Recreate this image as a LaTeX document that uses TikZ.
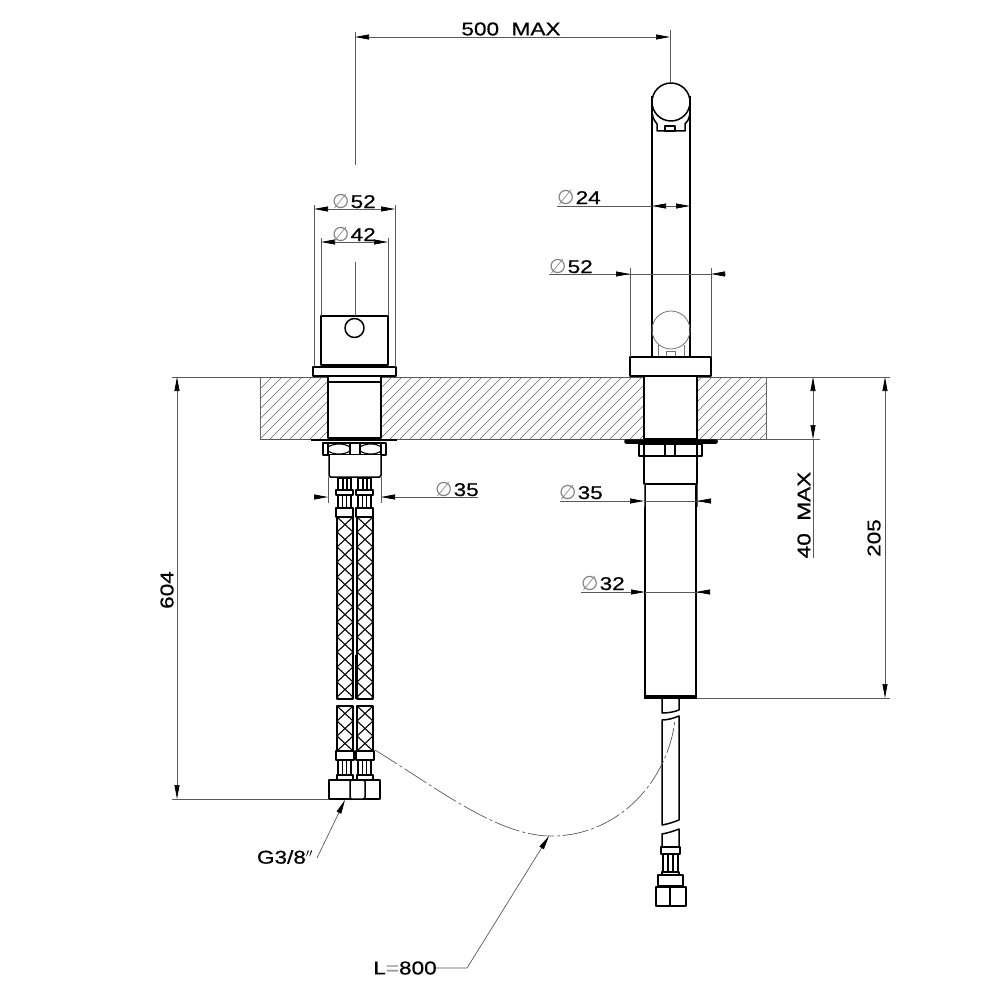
\documentclass[tikz,border=0pt]{standalone}
\usepackage{fontspec}
\setmainfont[FakeStretch=1.22,FakeBold=0.6]{Liberation Sans}
\newfontfamily\diafont{DejaVu Sans}
\usetikzlibrary{arrows.meta}
\tikzset{
  part/.style={draw=black,line width=1.5pt,fill=white,line join=round},
  thinpart/.style={draw=black,line width=1.1pt},
  ghost/.style={draw=black!55,line width=0.8pt},
  dim/.style={draw=black!65,line width=0.7pt},
  dimarrow/.style={dim,{Triangle[black,length=14pt,width=5pt]}-{Triangle[black,length=14pt,width=5pt]}},
  leader/.style={dim,-{Triangle[black,length=14pt,width=5pt]}},
  label/.style={font=\fontsize{18.5}{20}\selectfont,inner sep=0pt,text=black},
  hatchline/.style={draw=black!60,line width=0.55pt},
}
\newcommand{\dia}{\textcolor{black!50}{\diafont\fontsize{20}{20}\selectfont ∅}\hspace{1pt}}
% draws a braided hose between x1,x2 and y1,y2
\newcommand{\braid}[4]{
  \begin{scope}
    \clip (#1,#3) rectangle (#2,#4);
    \foreach \k in {-2,...,14}{
      \draw[thinpart] (#1,#3+\k*15) -- (#2,#3+\k*15+15) (#2,#3+\k*15) -- (#1,#3+\k*15+15);
    }
  \end{scope}
  \draw[part,fill=none] (#1,#3) rectangle (#2,#4);
}
% draws the ribbed fitting under/over a hose
\newcommand{\ribs}[3]{
  \draw[part] (#1+2,#2) rectangle (#1+15,#3);
  \draw[thinpart] (#1+6.5,#2) -- (#1+6.5,#3) (#1+10.5,#2) -- (#1+10.5,#3);
}
\begin{document}
\begin{tikzpicture}[x=1pt,y=-1pt]
  \useasboundingbox (0,0) rectangle (1000,1000);
  % worktop
  \begin{scope}
    \clip (260,377) rectangle (766,439);
    \foreach \k in {-7,...,51}{
      \draw[hatchline] (260+\k*10,439) -- (322+\k*10,377);
    }
  \end{scope}
  \draw[dim] (172,377) -- (890,377);
  \draw[dim] (260,439) -- (820,439);
  \draw[hatchline] (260,377) -- (260,439) (766,377) -- (766,439);
  % left body
  \draw[part] (321,316) rectangle (388,365);
  \draw[part] (354.5,328) circle (9.5);
  \draw[part] (313,367) rectangle (396,376);
  \draw[part] (328,376) rectangle (381,438);
  \draw[thinpart] (328,382) -- (381,382);
  \draw[part,line width=2.4pt] (311,440) -- (397,440);
  \draw[part] (323,443) rectangle (386,455);
  \draw[thinpart] (328,443) -- (328,455) (381,443) -- (381,455) (350,443) -- (350,455) (360,443) -- (360,455);
  \draw[thinpart] (328,447) .. controls (334,443) and (344,443) .. (350,447) (360,447) .. controls (366,443) and (376,443) .. (381,447);
  \draw[thinpart] (328,451) .. controls (334,455) and (344,455) .. (350,451) (360,451) .. controls (366,455) and (376,455) .. (381,451);
  \draw[part,rounded corners=1.5] (329,455) -- (329,477) -- (381,477) -- (381,455);
  % left fittings and hoses
  \foreach \xa in {336,356}{
    \draw[part] (\xa+2,478) rectangle (\xa+15,490);
    \draw[thinpart] (\xa+7,478) -- (\xa+7,490) (\xa+11,478) -- (\xa+11,490);
    \draw[part] (\xa,490) rectangle (\xa+17,495);
    \ribs{\xa}{495}{508}
    \draw[part] (\xa,508) rectangle (\xa+17,517);
    \braid{\xa+1}{\xa+17}{517}{699}
    \braid{\xa+1}{\xa+17}{706}{751}
    \draw[part] (\xa,751) rectangle (\xa+18,760);
    \ribs{\xa}{760}{775}
    \draw[part] (\xa+1,775) rectangle (\xa+17,780);
  }
  \draw[part] (329,780) rectangle (380,799);
  \draw[part,rounded corners=2pt] (350,780) rectangle (365,799);
  \draw[thinpart,line width=0.6pt] (355,655) -- (355,699);
  % right tap
  \draw[part] (652,96) -- (652,357) (690,96) -- (690,357);
  \draw[part] (652,113) .. controls (653,120) and (656,122) .. (657,124) -- (657,131) -- (685,131) -- (685,124) .. controls (687,122) and (689,120) .. (690,113);
  \draw[part] (665,126) rectangle (675,131);
  \draw[part] (671,102) circle (19);
  \draw[ghost] (671,330) circle (19);
  \draw[ghost] (658,345) -- (658,357) (684,345) -- (684,357);
  \draw[ghost] (666,351) rectangle (675,357);
  \draw[part] (630,357) rectangle (711,376);
  \draw[part] (644,376) rectangle (697,439);
  \draw[part,fill=black,rounded corners=1pt] (625,440) rectangle (717,443);
  \draw[part] (639,444) rectangle (702,456);
  \draw[thinpart] (644,444) -- (644,456) (697,444) -- (697,456) (665,444) -- (665,456) (675,444) -- (675,456);
  \draw[part] (644,456) rectangle (697,484);
  \draw[part] (645,484) rectangle (696,698);
  \draw[part,fill=black] (645,696) rectangle (696,698.5);
  % right hose
  \draw[part] (662,699) -- (662,713) .. controls (668,713) and (674,712) .. (679,710) -- (679,699);
  \draw[part] (662,720) .. controls (668,720) and (674,718) .. (679,716) -- (679,820) .. controls (674,822) and (668,824) .. (662,825) -- cycle;
  \draw[part] (662,834) .. controls (668,833) and (674,831) .. (679,829) -- (679,847) -- (662,847) -- cycle;
  \draw[part] (661,847) rectangle (680,854);
  \draw[part] (663,854) rectangle (678,872);
  \draw[thinpart] (668,854) -- (668,872) (673,854) -- (673,872);
  \draw[part] (662,872) rectangle (679,875);
  \draw[part] (658,875) rectangle (683,886);
  \draw[part] (656,887) rectangle (686,906);
  \draw[part] (670,887) -- (670,906);
  % flexible hose path
  \draw[dim,dash pattern=on 26pt off 3pt on 3pt off 3pt] (375,750) .. controls (440,790) and (500,838) .. (555,836) .. controls (620,834) and (668,780) .. (675,720);
  % extension lines
  \draw[dim] (355,32) -- (355,165);
  \draw[dim] (670,30) -- (670,83);
  \draw[dim] (314,205) -- (314,367) (395,205) -- (395,367);
  \draw[dim] (321,238) -- (321,316) (388,238) -- (388,316);
  \draw[dim] (355,262) -- (355,316);
  \draw[dim] (630,268) -- (630,357) (711,268) -- (711,357);
  \draw[dim] (697,698) -- (890,698);
  \draw[dim] (172,799) -- (329,799);
  \draw[dim] (328,477) -- (328,503) (381,477) -- (381,503);
  \draw[dim] (644,484) -- (644,507) (697,484) -- (697,507);
  % dimensions
  \coordinate (topl) at (355,37); \coordinate (topr) at (670,37);
  \draw[dimarrow] (topl) -- (topr);
  \node[label] (maxlabel) at (511,29) {500\ \ MAX};
  \coordinate (d52a) at (314,209); \coordinate (d52b) at (395,209);
  \draw[dimarrow] (d52a) -- (d52b);
  \node[label] (leftfiftytwo) at (354,201) {\dia 52};
  \coordinate (d42a) at (321,242); \coordinate (d42b) at (388,242);
  \draw[dimarrow] (d42a) -- (d42b);
  \node[label] (leftfortytwo) at (354,234) {\dia 42};
  \draw[dim] (557,206) -- (652,206);
  \draw[dimarrow] (652,206) -- (690,206);
  \node[label] (twentyfour) at (579,197) {\dia 24};
  \draw[dim] (549,274) -- (711,274);
  \draw[leader] (616,274) -- (630,274);
  \draw[leader] (725,274) -- (711,274);
  \node[label] (rightfiftytwo) at (571,266) {\dia 52};
  \draw[leader] (478,497) -- (381,497);
  \draw[leader] (314,497) -- (328,497);
  \node[label] (leftthirtyfive) at (457,489) {\dia 35};
  \draw[leader] (560,501) -- (644,501);
  \draw[dim] (644,501) -- (710,501);
  \draw[leader] (710,501) -- (697,501);
  \node[label] (rightthirtyfive) at (581,492) {\dia 35};
  \draw[leader] (581,592) -- (645,592);
  \draw[dim] (645,592) -- (708,592);
  \draw[leader] (708,592) -- (696,592);
  \node[label] (thirtytwo) at (603,583) {\dia 32};
  \draw[dimarrow] (813,377) -- (813,439);
  \draw[dim] (813,439) -- (813,558);
  \node[label,rotate=90] (fortymax) at (804,515) {40\ \ MAX};
  \draw[dimarrow] (885,377) -- (885,698);
  \node[label,rotate=90] (twohundred) at (874,538) {205};
  \draw[dimarrow] (177,377) -- (177,799);
  \node[label,rotate=90] (sixhundred) at (167,590) {604};
  \node[label] (thread) at (285,857) {G3/8$''$};
  \draw[leader] (317,858) -- (345,800);
  \node[label] (length) at (405,968) {L\textcolor{black!40}{=}800};
  \draw[leader] (436,968) -- (467,968) -- (549,836);
\end{tikzpicture}
\end{document}
